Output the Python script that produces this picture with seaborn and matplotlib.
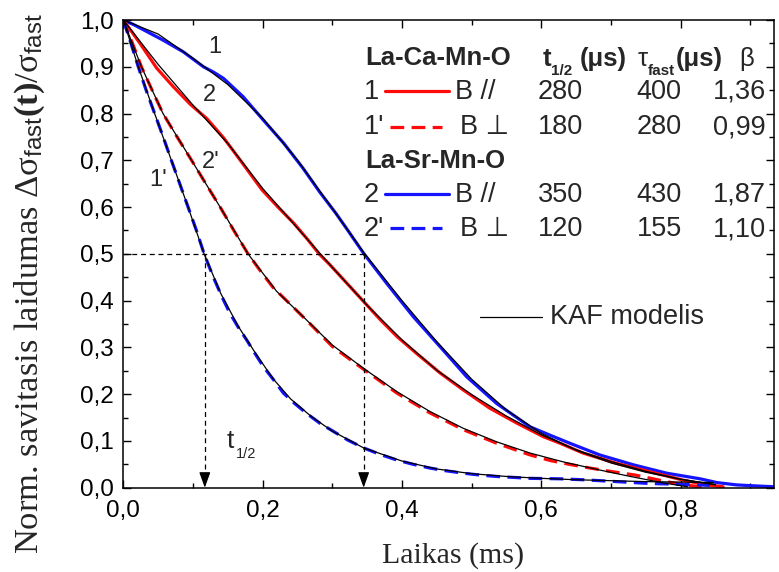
import matplotlib
matplotlib.use("Agg")
import matplotlib.pyplot as plt
from matplotlib.lines import Line2D
from matplotlib.ticker import MultipleLocator, FuncFormatter
import numpy as np
import pandas as pd
import seaborn as sns

# ---- measured relaxation curves (time in ms, normalised conductivity) ----
# La-Sr-Mn-O, B parallel
sr_par_t = [0.000, 0.015, 0.029, 0.057, 0.086, 0.115, 0.129, 0.144, 0.172, 0.201,
            0.230, 0.258, 0.282, 0.305, 0.321, 0.345, 0.378, 0.416, 0.455, 0.493,
            0.536, 0.584, 0.613, 0.641, 0.684, 0.732, 0.780, 0.828, 0.852, 0.880,
            0.905, 0.934]
sr_par_v = [1.000, 0.990, 0.979, 0.957, 0.932, 0.900, 0.889, 0.875, 0.836, 0.786,
            0.737, 0.683, 0.632, 0.587, 0.553, 0.501, 0.437, 0.366, 0.301, 0.237,
            0.180, 0.130, 0.112, 0.095, 0.070, 0.049, 0.031, 0.019, 0.011, 0.006,
            0.004, 0.002]

# La-Ca-Mn-O, B parallel
ca_par_t = [0.000, 0.024, 0.048, 0.072, 0.096, 0.120, 0.144, 0.167, 0.199, 0.222,
            0.245, 0.265, 0.281, 0.297, 0.321, 0.345, 0.369, 0.393, 0.421, 0.455,
            0.488, 0.526, 0.565, 0.603, 0.627, 0.660, 0.708, 0.756, 0.804, 0.838,
            0.861]
ca_par_v = [1.000, 0.950, 0.897, 0.857, 0.820, 0.789, 0.748, 0.702, 0.637, 0.600,
            0.565, 0.530, 0.500, 0.476, 0.437, 0.398, 0.359, 0.323, 0.287, 0.245,
            0.209, 0.170, 0.138, 0.109, 0.095, 0.074, 0.052, 0.034, 0.016, 0.006,
            0.002]

# La-Ca-Mn-O, B perpendicular
ca_perp_t = [0.000, 0.013, 0.026, 0.041, 0.057, 0.078, 0.098, 0.118, 0.139, 0.159,
             0.179, 0.197, 0.215, 0.244, 0.273, 0.300, 0.345, 0.393, 0.440, 0.488,
             0.536, 0.584, 0.613, 0.640, 0.670, 0.699, 0.735, 0.770, 0.804, 0.830]
ca_perp_v = [1.000, 0.951, 0.900, 0.851, 0.800, 0.748, 0.700, 0.651, 0.600, 0.549,
             0.500, 0.463, 0.428, 0.386, 0.343, 0.302, 0.253, 0.202, 0.160, 0.124,
             0.095, 0.070, 0.058, 0.050, 0.042, 0.035, 0.027, 0.016, 0.006, 0.002]

# La-Sr-Mn-O, B perpendicular
sr_perp_t = [0.000, 0.011, 0.0215, 0.033, 0.045, 0.057, 0.069, 0.081, 0.093, 0.105,
             0.116, 0.129, 0.141, 0.153, 0.165, 0.177, 0.189, 0.201, 0.215, 0.230,
             0.246, 0.263, 0.282, 0.302, 0.322, 0.345, 0.369, 0.393, 0.416, 0.440,
             0.464, 0.488, 0.512, 0.536, 0.560, 0.584, 0.627, 0.660, 0.708, 0.756,
             0.804, 0.842]
sr_perp_v = [1.000, 0.950, 0.900, 0.849, 0.800, 0.751, 0.700, 0.650, 0.600, 0.550,
             0.500, 0.451, 0.410, 0.373, 0.343, 0.316, 0.287, 0.259, 0.232, 0.202,
             0.180, 0.159, 0.138, 0.120, 0.102, 0.085, 0.071, 0.059, 0.050, 0.042,
             0.036, 0.031, 0.027, 0.024, 0.022, 0.020, 0.019, 0.017, 0.013, 0.009,
             0.007, 0.005]

# ---- KAF model curves ----
sr_par_fit_t = [0.0, 0.05, 0.1, 0.15, 0.2, 0.25, 0.3, 0.345, 0.4, 0.45, 0.5, 0.55,
                0.6, 0.65, 0.7, 0.75, 0.8, 0.85]
sr_par_fit_v = [1.0, 0.970, 0.918, 0.862, 0.790, 0.700, 0.597, 0.503, 0.400, 0.312,
                0.232, 0.166, 0.116, 0.080, 0.053, 0.033, 0.018, 0.007]

ca_par_fit_t = [0.0, 0.05, 0.1, 0.15, 0.2, 0.25, 0.3, 0.35, 0.4, 0.45, 0.5, 0.55,
                0.6, 0.65, 0.7, 0.75, 0.8, 0.85]
ca_par_fit_v = [1.0, 0.905, 0.818, 0.736, 0.640, 0.555, 0.471, 0.390, 0.316, 0.251,
                0.199, 0.153, 0.113, 0.081, 0.056, 0.035, 0.018, 0.006]

ca_perp_fit_t = [0.0, 0.026, 0.057, 0.098, 0.139, 0.179, 0.22, 0.26, 0.3, 0.345,
                 0.393, 0.44, 0.488, 0.536, 0.584, 0.632, 0.68, 0.728, 0.776, 0.81]
ca_perp_fit_v = [1.0, 0.9, 0.8, 0.7, 0.6, 0.5, 0.42, 0.363, 0.305, 0.255,
                 0.205, 0.163, 0.127, 0.098, 0.074, 0.055, 0.039, 0.024, 0.010, 0.002]

sr_perp_fit_t = [0.0, 0.0215, 0.045, 0.069, 0.093, 0.116, 0.14, 0.165, 0.19, 0.215,
                 0.24, 0.27, 0.3, 0.345, 0.4, 0.45, 0.5, 0.55, 0.6, 0.65, 0.7,
                 0.75, 0.8, 0.847]
sr_perp_fit_v = [1.0, 0.9, 0.8, 0.7, 0.6, 0.5, 0.415, 0.345, 0.287, 0.233,
                 0.190, 0.152, 0.121, 0.085, 0.057, 0.040, 0.030, 0.024, 0.020,
                 0.017, 0.015, 0.013, 0.012, 0.011]

# half-decay times marked by the dashed guides (ms)
t_half_marks = [0.117, 0.345]

# table of fit parameters
row_ids = ["1", "1'", "2", "2'"]
row_field = ["B //", "B \u22a5", "B //", "B \u22a5"]
t_half_us = ["280", "180", "350", "120"]
tau_fast_us = ["400", "280", "430", "155"]
beta_vals = ["1,36", "0,99", "1,87", "1,10"]

# curve labels written on the plot
curve_labels = ["1", "2", "2'", "1'"]
curve_label_t = [0.131, 0.123, 0.126, 0.050]
curve_label_v = [0.943, 0.839, 0.697, 0.657]

RED = "#ff0a0a"
BLUE = "#1414ff"
SANS = ["Liberation Sans", "DejaVu Sans"]


def frame(t, v, name):
    return pd.DataFrame({"t": t, "v": v, "series": name})


data = pd.concat([
    frame(ca_par_t, ca_par_v, "ca_par"),
    frame(ca_perp_t, ca_perp_v, "ca_perp"),
    frame(sr_par_t, sr_par_v, "sr_par"),
    frame(sr_perp_t, sr_perp_v, "sr_perp"),
], ignore_index=True)

fits = pd.concat([
    frame(ca_par_fit_t, ca_par_fit_v, "ca_par"),
    frame(ca_perp_fit_t, ca_perp_fit_v, "ca_perp"),
    frame(sr_par_fit_t, sr_par_fit_v, "sr_par"),
    frame(sr_perp_fit_t, sr_perp_fit_v, "sr_perp"),
], ignore_index=True)

DASH = (4.3, 2.3)
styles = {
    "ca_par": dict(color=RED, dashes=None),
    "ca_perp": dict(color=RED, dashes=DASH),
    "sr_par": dict(color=BLUE, dashes=None),
    "sr_perp": dict(color=BLUE, dashes=DASH),
}

sns.set_style("ticks")
plt.rcParams["font.family"] = SANS
plt.rcParams["mathtext.fontset"] = "custom"
plt.rcParams["mathtext.rm"] = "Liberation Serif"
plt.rcParams["mathtext.sf"] = "Liberation Sans"
plt.rcParams["mathtext.bf"] = "Liberation Serif:bold"
plt.rcParams["mathtext.it"] = "Liberation Serif:italic"

W, H = 779, 572
fig = plt.figure(figsize=(W / 100, H / 100), dpi=100)
ax_l, ax_r, ax_t, ax_b = 123.3, 774.0, 20.0, 487.7
ax = fig.add_axes([ax_l / W, 1 - ax_b / H, (ax_r - ax_l) / W, (ax_b - ax_t) / H])

DATA_LW = 2.3
for name in ["sr_par", "ca_par", "ca_perp", "sr_perp"]:
    st = styles[name]
    kw = dict(color=st["color"], linewidth=DATA_LW)
    if st["dashes"] is not None:
        kw["dashes"] = st["dashes"]
    sns.lineplot(data=data[data.series == name], x="t", y="v", ax=ax,
                 estimator=None, sort=False, zorder=2, **kw)

for name in ["sr_par", "ca_par", "ca_perp", "sr_perp"]:
    sns.lineplot(data=fits[fits.series == name], x="t", y="v", ax=ax,
                 estimator=None, sort=False, color="black", linewidth=0.9, zorder=3)

# t1/2 guides
ax.plot([0, t_half_marks[1]], [0.5, 0.5], color="black", lw=0.9,
        dashes=(4, 3), zorder=4)
for th in t_half_marks:
    ax.plot([th, th], [0.5, 0.03], color="black", lw=0.9, dashes=(4, 3), zorder=4)
    ax.annotate("", xy=(th, 0.0), xytext=(th, 0.03),
                arrowprops=dict(arrowstyle="-|>,head_length=0.47,head_width=0.17",
                                color="black", lw=0.9, mutation_scale=20,
                                shrinkA=0, shrinkB=0), zorder=5)
ax.text(0.149, 0.085, "t", fontsize=19, ha="left", va="baseline")
ax.text(0.162, 0.064, "1/2", fontsize=10.5, ha="left", va="baseline")

for lab, tx, vy in zip(curve_labels, curve_label_t, curve_label_v):
    ax.text(tx, vy, lab, fontsize=17, ha="center", va="center")

ax.set_xlim(0, 0.934)
ax.set_ylim(0, 1.0)
ax.xaxis.set_major_locator(MultipleLocator(0.2))
ax.xaxis.set_minor_locator(MultipleLocator(0.1))
ax.yaxis.set_major_locator(MultipleLocator(0.1))
ax.yaxis.set_minor_locator(MultipleLocator(0.05))
comma = FuncFormatter(lambda v, _: f"{v:.1f}".replace(".", ","))
ax.xaxis.set_major_formatter(comma)
ax.yaxis.set_major_formatter(comma)
ax.tick_params(which="both", direction="in", top=True, right=True,
               colors="black", width=1.0, labelsize=17.5)
ax.tick_params(which="major", length=6)
ax.tick_params(which="minor", length=3.5)
ax.tick_params(axis="x", which="major", pad=9)
ax.tick_params(axis="y", which="major", pad=7)
for sp in ax.spines.values():
    sp.set_linewidth(1.1)
    sp.set_color("black")
ax.set_xlabel("")
ax.set_ylabel("")


def fx(px):
    return px / W


def fy(py):
    return 1 - py / H


# axis titles
fig.text(fx(453), fy(556), "Laikas (ms)", fontsize=21.5, family="Liberation Serif",
         ha="center", va="center")
fig.text(fx(30), fy(284),
         r"Norm. savitasis laidumas $\mathrm{\Delta\sigma}_{\mathsf{fast}}\mathbf{(t)}\mathrm{/\sigma}_{\mathsf{fast}}$",
         fontsize=24.8, family="Liberation Serif", rotation=90,
         ha="center", va="center")

# ---- parameter table (figure pixel positions) ----
FS = 19.5
HS = 18.5
fig.text(fx(365), fy(58), "La-Ca-Mn-O", fontsize=HS, weight="bold", va="center")
fig.text(fx(365), fy(161), "La-Sr-Mn-O", fontsize=HS, weight="bold", va="center")
fig.text(fx(542.5), fy(66), "t", fontsize=HS, weight="bold", va="baseline")
fig.text(fx(551.5), fy(75), "1/2", fontsize=11, weight="bold", va="baseline")
fig.text(fx(579.5), fy(66), "(\u03bcs)", fontsize=HS, weight="bold", va="baseline")
fig.text(fx(637.5), fy(66), "\u03c4", fontsize=HS, va="baseline")
fig.text(fx(648), fy(75), "fast", fontsize=11, weight="bold", va="baseline")
fig.text(fx(675.5), fy(66), "(\u03bcs)", fontsize=HS, weight="bold", va="baseline")
fig.text(fx(739.5), fy(66), "\u03b2", fontsize=HS, va="baseline")

row_y = [91.7, 127.5, 195.0, 229.3]
row_color = [RED, RED, BLUE, BLUE]
row_dash = [None, DASH, None, DASH]
for i in range(4):
    y = row_y[i]
    fig.text(fx(364), fy(y), row_ids[i], fontsize=FS, va="center")
    if row_dash[i] is None:
        fig.add_artist(Line2D([fx(385), fx(449)], [fy(y - 1), fy(y - 1)],
                              color=row_color[i], lw=DATA_LW, transform=fig.transFigure))
        fig.text(fx(455), fy(y), row_field[i], fontsize=FS, va="center")
    else:
        fig.add_artist(Line2D([fx(390), fx(442)], [fy(y - 1), fy(y - 1)],
                              color=row_color[i], lw=DATA_LW, dashes=row_dash[i],
                              transform=fig.transFigure))
        fig.text(fx(460.5), fy(y), row_field[i], fontsize=FS, va="center")
    fig.text(fx(538), fy(y), t_half_us[i], fontsize=FS, va="center")
    fig.text(fx(636.5), fy(y), tau_fast_us[i], fontsize=FS, va="center")
    fig.text(fx(712.5), fy(y), beta_vals[i], fontsize=FS, va="center")

# model legend entry
fig.add_artist(Line2D([fx(480), fx(542)], [fy(317), fy(317)], color="black",
                      lw=0.9, transform=fig.transFigure))
fig.text(fx(549.5), fy(317), "KAF modelis", fontsize=FS, va="center")

fig.savefig("out.png", dpi=100)
